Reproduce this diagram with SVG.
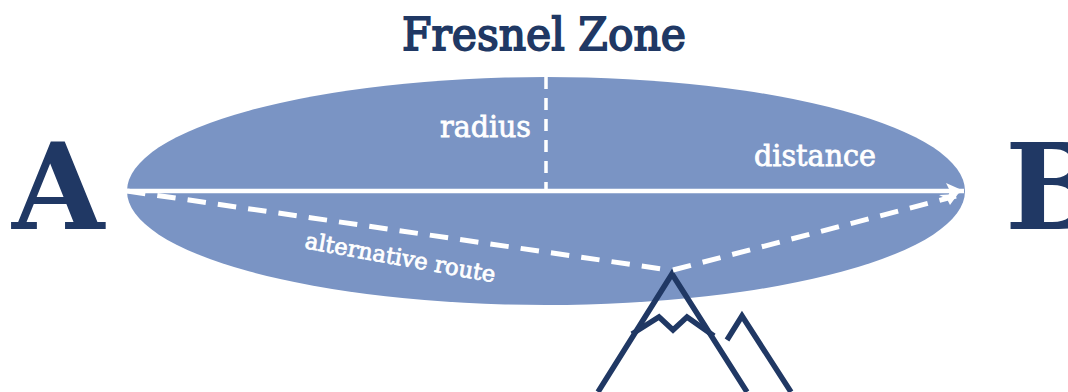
<svg xmlns="http://www.w3.org/2000/svg" width="1068" height="392" viewBox="0 0 1068 392">
<style>
.t{font-family:"DejaVu Serif",serif}
.d{fill:#203864}
.w{fill:#fff;stroke:#fff;stroke-width:.8}
.c{fill:none;stroke:#fff;stroke-width:4.5}
.dash{stroke-width:5;stroke-dasharray:18.5 12.1}
.m{fill:none;stroke:#203864;stroke-width:5.5}
</style>
<defs>
<marker id="arr" markerUnits="userSpaceOnUse" markerWidth="22" markerHeight="24" refX="20" refY="12" orient="auto"><path d="M2 4 L20 12 L3 20 L6 12 Z" fill="#fff"/></marker>
</defs>
<rect width="1068" height="392" fill="#fff"/>
<g id="zone"><ellipse cx="546" cy="191" rx="419" ry="114" fill="#7a94c4"/></g>
<g id="mountains">
<path class="m" d="M598 392 L672 274 L747 392"/>
<path class="m" d="M632 334 L659 317 L673 330 L687 317 L714 336"/>
<path class="m" d="M727 340 L742 316 L791 392"/>
</g>
<g id="connectors">
<line x1="546" y1="77" x2="546" y2="189" class="c" style="stroke-width:3.5;stroke-dasharray:12 9"/>
<line class="c" x1="127" y1="191" x2="964" y2="191" marker-end="url(#arr)"/>
<path class="c dash" d="M127 191 L669 270"/>
<path class="c dash" d="M673 270 L956 196"/>
<path d="M939 195 L958 194 L950 205 L947 199 Z" fill="#fff"/>
</g>
<g id="title"><text class="t d" x="402" y="50" font-size="45" stroke="#203864" stroke-width="1.8" textLength="284" lengthAdjust="spacingAndGlyphs">Fresnel Zone</text></g>
<g id="node-a"><text class="t d" x="12" y="229" font-size="119" font-weight="700">A</text></g>
<g id="node-b"><text class="t d" x="1005" y="229" font-size="119" font-weight="700">B</text></g>
<g id="label-radius"><text class="t w" x="440" y="137" font-size="30" textLength="91" lengthAdjust="spacingAndGlyphs">radius</text></g>
<g id="label-distance"><text class="t w" x="754" y="166" font-size="29" textLength="122" lengthAdjust="spacingAndGlyphs">distance</text></g>
<g id="label-route"><text class="t w" transform="translate(304 248) rotate(10.3)" font-size="23" textLength="193" lengthAdjust="spacingAndGlyphs">alternative route</text></g>
</svg>
